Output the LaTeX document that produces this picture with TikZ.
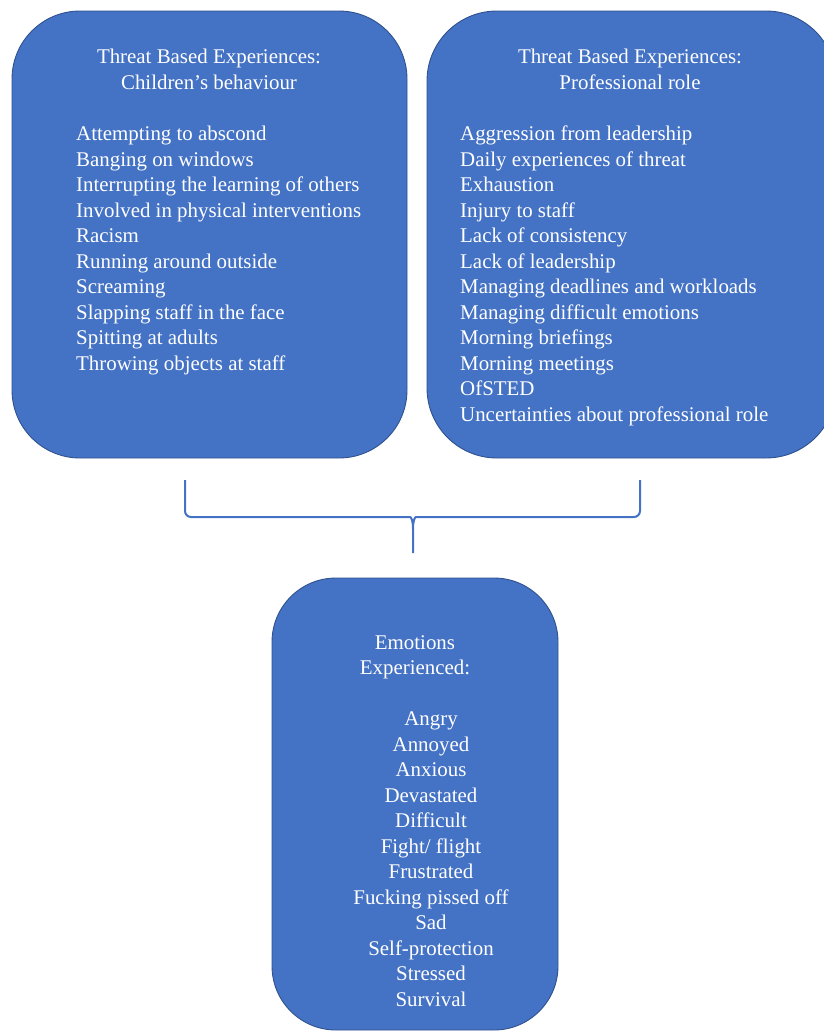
\documentclass[tikz,border=0pt]{standalone}
\usepackage{fontspec}
\setmainfont{Liberation Serif}
\usetikzlibrary{calc}
\definecolor{boxblue}{HTML}{4472C4}
\definecolor{boxedge}{HTML}{2F528F}
\begin{document}
\begin{tikzpicture}[x=1pt,y=-1pt,
  panel/.style={draw=boxedge, line width=0.9pt, fill=boxblue, rounded corners=#1},
  txt/.style={text=white, inner sep=0pt, font={\fontsize{20.9}{25.5}\selectfont}},
  brace/.style={draw=boxblue, line width=2pt}]
\useasboundingbox (0,0) rectangle (824,1031);
\clip (0,0) rectangle (824,1031);

% three rounded panels
\draw[panel=68] (12,11) rectangle (407,458);
\draw[panel=70] (427,11) rectangle (836,458);
\draw[panel=64] (272,578) rectangle (558,1030);

% text blocks are placed by the baseline of their last line
% left panel
\node[txt, align=center, anchor=base] (lefthead) at (209,89)
  {Threat Based Experiences:\\Children’s behaviour};
\node[txt, align=left, anchor=base west] (leftlist) at (76,370)
  {Attempting to abscond\\
   Banging on windows\\
   Interrupting the learning of others\\
   Involved in physical interventions\\
   Racism\\
   Running around outside\\
   Screaming\\
   Slapping staff in the face\\
   Spitting at adults\\
   Throwing objects at staff};

% right panel
\node[txt, align=center, anchor=base] (righthead) at (630,89)
  {Threat Based Experiences:\\Professional role};
\node[txt, align=left, anchor=base west] (rightlist) at (460,421)
  {Aggression from leadership\\
   Daily experiences of threat\\
   Exhaustion\\
   Injury to staff\\
   Lack of consistency\\
   Lack of leadership\\
   Managing deadlines and workloads\\
   Managing difficult emotions\\
   Morning briefings\\
   Morning meetings\\
   OfSTED\\
   Uncertainties about professional role};

% bottom panel
\node[txt, align=center, anchor=base] (bothead) at (415,674.5)
  {Emotions\\Experienced:};
\node[txt, align=center, anchor=base] (botlist) at (431,1006)
  {Angry\\
   Annoyed\\
   Anxious\\
   Devastated\\
   Difficult\\
   Fight/ flight\\
   Frustrated\\
   Fucking pissed off\\
   Sad\\
   Self-protection\\
   Stressed\\
   Survival};

% brace joining the two upper panels to the lower one
\coordinate (bl) at (185,480);
\coordinate (br) at (640,480);
\coordinate (bj) at (413,517);
\coordinate (bm) at (413,553);
\draw[brace] (bl) [rounded corners=6] |- ($(bj)+(-9,0)$) [sharp corners]
  .. controls ($(bj)+(-2,0)$) and ($(bj)+(0,3)$) .. ($(bj)+(0,12)$) -- (bm);
\draw[brace] (br) [rounded corners=6] |- ($(bj)+(9,0)$) [sharp corners]
  .. controls ($(bj)+(2,0)$) and ($(bj)+(0,3)$) .. ($(bj)+(0,12)$);
\end{tikzpicture}
\end{document}
